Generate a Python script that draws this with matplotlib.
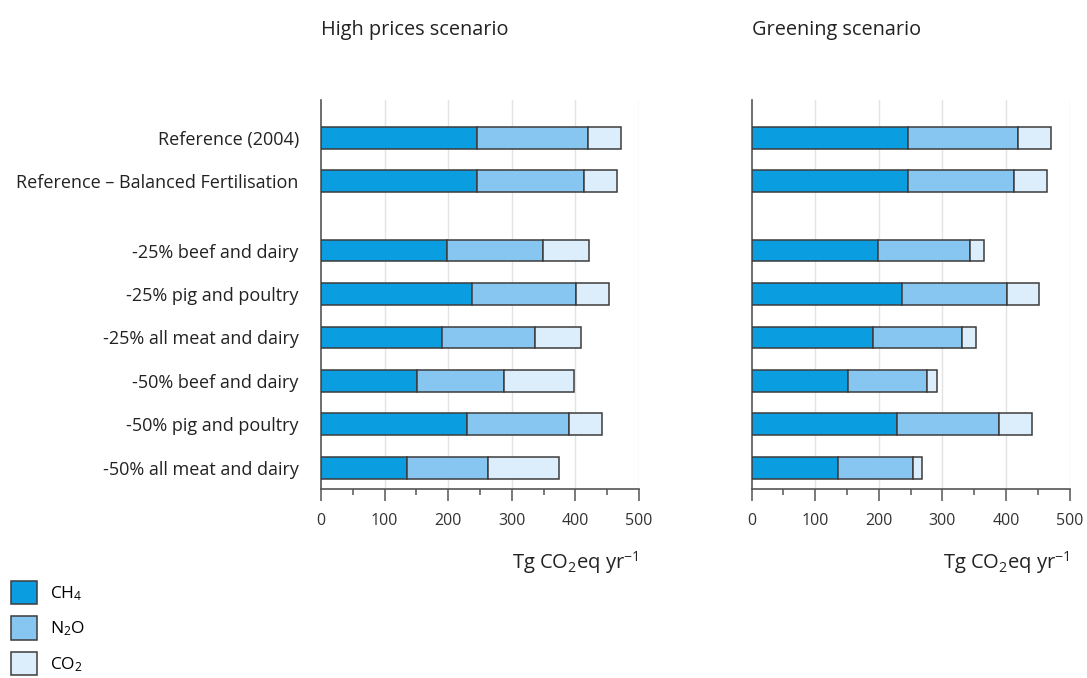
import matplotlib
matplotlib.use("Agg")
import matplotlib.pyplot as plt
from matplotlib.ticker import MultipleLocator

plt.rcParams['font.family'] = ['Open Sans', 'DejaVu Sans']
plt.rcParams['mathtext.fontset'] = 'custom'
plt.rcParams['mathtext.rm'] = 'Open Sans'
plt.rcParams['mathtext.default'] = 'regular'

# emissions per scenario, Tg CO2eq per year
categories = ["Reference (2004)", "Reference \u2013 Balanced Fertilisation",
              "-25% beef and dairy", "-25% pig and poultry", "-25% all meat and dairy",
              "-50% beef and dairy", "-50% pig and poultry", "-50% all meat and dairy"]
ypos = [0, 1, 2.6, 3.6, 4.6, 5.6, 6.6, 7.6]

high_ch4 = [245, 245, 198, 237, 190, 151, 229, 135]
high_n2o = [174, 168, 151, 164, 147, 136, 161, 128]
high_co2 = [52, 52, 73, 51, 72, 111, 51, 111]

green_ch4 = [245, 245, 198, 237, 190, 151, 229, 136]
green_n2o = [174, 168, 145, 164, 141, 125, 160, 117]
green_co2 = [52, 52, 23, 51, 22, 15, 52, 15]

titles = ["High prices scenario", "Greening scenario"]
gases = ["CH$_4$", "N$_2$O", "CO$_2$"]
colors = ["#0a9de0", "#86c6f1", "#dcedfb"]
edge = "#3c3c3c"
axis_col = "#555555"

fig = plt.figure(figsize=(10.87, 6.78), dpi=100)
ax1 = fig.add_axes([0.2953, 0.2788, 0.2926, 0.5737])
ax2 = fig.add_axes([0.6915, 0.2788, 0.2926, 0.5737])

handles = []
for ax, title, data in [(ax1, titles[0], (high_ch4, high_n2o, high_co2)),
                        (ax2, titles[1], (green_ch4, green_n2o, green_co2))]:
    left = [0] * len(ypos)
    handles = []
    for vals, c in zip(data, colors):
        b = ax.barh(ypos, vals, left=left, height=0.5, color=c,
                    edgecolor=edge, linewidth=1.1, zorder=3)
        handles.append(b)
        left = [l + v for l, v in zip(left, vals)]

    ax.set_xlim(0, 500)
    ax.set_ylim(8.09, -0.87)
    ax.xaxis.set_major_locator(MultipleLocator(100))
    ax.xaxis.set_minor_locator(MultipleLocator(50))
    for g in range(100, 501, 100):
        ax.axvline(g, color="#e3e3e3", linewidth=1.0, zorder=0)

    for s in ["top", "right"]:
        ax.spines[s].set_visible(False)
    for s in ["left", "bottom"]:
        ax.spines[s].set_color(axis_col)
        ax.spines[s].set_linewidth(1.2)

    ax.tick_params(axis="x", which="major", length=8.5, width=1.1, color=axis_col,
                   labelsize=11.5, labelcolor="#333333", pad=9)
    ax.tick_params(axis="x", which="minor", length=4.5, width=1.1, color=axis_col)
    ax.tick_params(axis="y", length=0)

    ax.set_title(title, loc="left", fontsize=14.3, color="#222222", pad=47)
    ax.set_xlabel("Tg CO$_2$eq yr$^{-1}$", loc="right", fontsize=14.5,
                  color="#222222", labelpad=14)

ax1.set_yticks(ypos)
ax1.set_yticklabels(categories, fontsize=13, color="#222222")
ax1.tick_params(axis="y", pad=16)
ax2.set_yticks(ypos)
ax2.set_yticklabels([])

fig.legend(handles, gases, loc="lower left", bbox_to_anchor=(-0.003, -0.016),
           frameon=False, fontsize=12.5, handlelength=1.5, handleheight=1.7,
           labelspacing=0.68, handletextpad=0.75, borderpad=0.3)

fig.savefig("out.png", dpi=100)
